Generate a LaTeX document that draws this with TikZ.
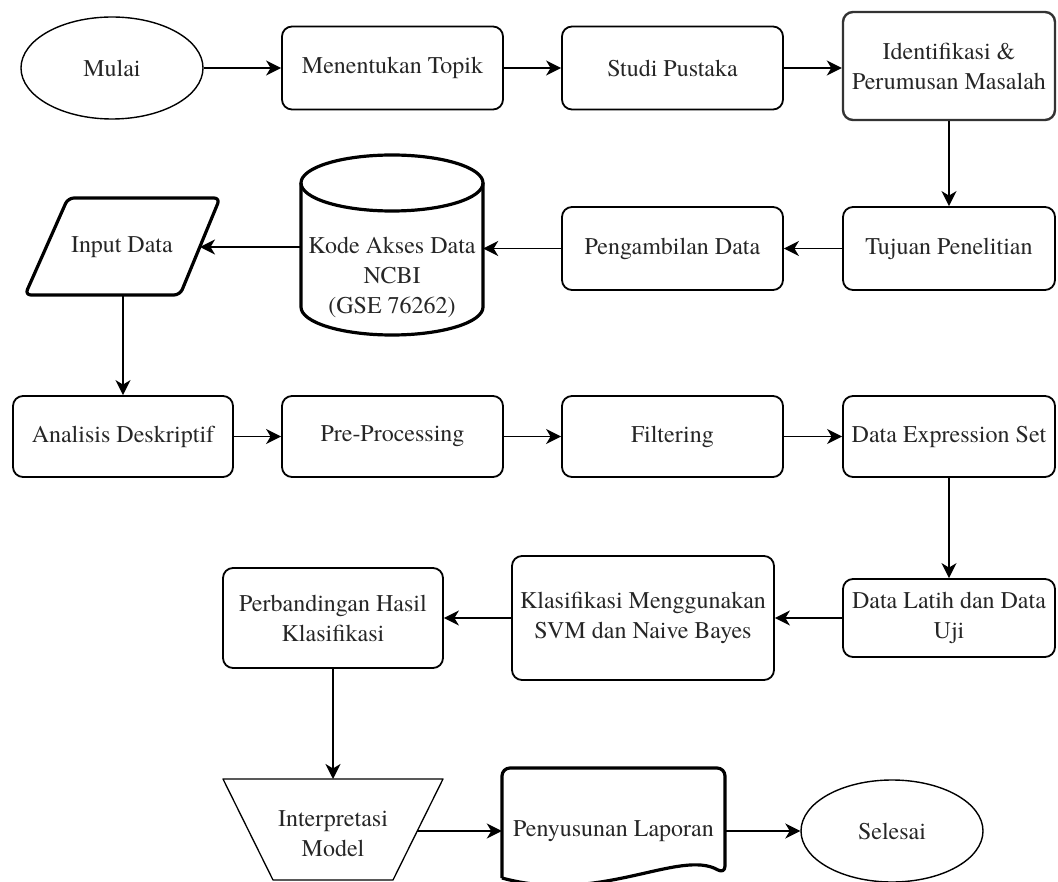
\documentclass[tikz,border=0pt]{standalone}
\usepackage{fontspec}
\setmainfont{texgyretermes}[Extension=.otf, UprightFont=*-regular, BoldFont=*-bold]
\usetikzlibrary{arrows.meta,shapes.geometric}
\begin{document}
\begin{tikzpicture}[x=1pt,y=-1pt,
  txt/.style={font=\rmfamily\fontsize{24}{30}\selectfont, text=black!85, align=center, inner sep=0pt},
  box/.style={txt, draw, line width=1.8pt, rounded corners=10pt},
  oval/.style={txt, draw, ellipse, line width=1.4pt, minimum width=182pt, minimum height=102pt},
  arr/.style={line width=1.8pt, -{Stealth[length=15pt,width=15pt,inset=4.5pt]}},
  heavy/.style={line width=3.2pt, line join=round}
]
\useasboundingbox (0,0) rectangle (1058,882);

% row 1
\node[oval] (mulai) at (112,68) {Mulai};
\node[box, minimum width=221pt, minimum height=83pt] (men) at (392.5,68) {Menentukan Topik};
\node[box, minimum width=221pt, minimum height=83pt] (studi) at (672.5,68) {Studi Pustaka};
\node[box, draw=black!80, line width=2.4pt, minimum width=212pt, minimum height=108pt] (iden) at (949,66) {Identifikasi \&\\Perumusan Masalah};

% row 2
\node[box, minimum width=212pt, minimum height=83pt] (tuj) at (949,248.5) {Tujuan Penelitian};
\node[box, minimum width=221pt, minimum height=83pt] (pg) at (672.5,248.5) {Pengambilan Data};
\node[txt, minimum width=182pt, minimum height=180pt] (cyl) at (392,245) {};
\draw[heavy] (301,183) -- (301,307) arc[start angle=180, end angle=360, x radius=91pt, y radius=28pt] -- (483,183);
\draw[heavy] (392,183) ellipse [x radius=91pt, y radius=28pt];
\node[txt] (cyltxt) at (392,277) {Kode Akses Data\\NCBI\\(GSE 76262)};
\node[txt] (inp) at (122,247) {Input Data};
\draw[heavy, rounded corners=6pt] (68,198) -- (220,198) -- (180,295) -- (25,295) -- cycle;
\coordinate (inpR) at (200,247);
\coordinate (inpB) at (123,295);

% row 3
\node[box, minimum width=220pt, minimum height=81pt] (ana) at (123,436.5) {Analisis Deskriptif};
\node[box, minimum width=221pt, minimum height=81pt] (pre) at (392.5,436.5) {Pre-Processing};
\node[box, minimum width=221pt, minimum height=81pt] (fil) at (672.5,436.5) {Filtering};
\node[box, minimum width=212pt, minimum height=81pt] (dex) at (949,436.5) {Data Expression Set};

% row 4
\node[box, minimum width=212pt, minimum height=78pt] (dl) at (949,618) {Data Latih dan Data\\Uji};
\node[box, minimum width=262pt, minimum height=124pt] (kl) at (643,618) {Klasifikasi Menggunakan\\SVM dan Naive Bayes};
\node[box, minimum width=220pt, minimum height=100pt] (pb) at (333,618) {Perbandingan Hasil\\Klasifikasi};

% row 5
\node[txt] (interp) at (333,834) {Interpretasi\\Model};
\draw[line width=1.3pt, line join=round] (223,779) -- (443,779) -- (393,880) -- (273,880) -- cycle;
\coordinate (interpT) at (333,779);
\coordinate (interpR) at (417,831);
\node[txt, minimum width=223pt] (doc) at (613.5,831) {Penyusunan Laporan};
\draw[heavy, rounded corners=8pt] (502,878) -- (502,768) -- (725,768) -- (725,874) [sharp corners] .. controls (680,848) and (600,905) .. (502,878);
\node[oval] (sel) at (892,831) {Selesai};

% connectors
\draw[arr] (mulai.east) -- (men.west);
\draw[arr] (men.east) -- (studi.west);
\draw[arr] (studi.east) -- (studi.east -| iden.west);
\draw[arr] (iden.south) -- (tuj.north);
\draw[arr] (tuj.west) -- (pg.east);
\draw[arr] (pg.west) -- (pg.west -| cyl.east);
\draw[arr] (inpR -| cyl.west) -- (inpR);
\draw[arr] (inpB) -- (ana.north);
\draw[arr] (ana.east) -- (pre.west);
\draw[arr] (pre.east) -- (fil.west);
\draw[arr] (fil.east) -- (dex.west);
\draw[arr] (dex.south) -- (dl.north);
\draw[arr] (dl.west) -- (kl.east);
\draw[arr] (kl.west) -- (pb.east);
\draw[arr] (pb.south) -- (interpT);
\draw[arr] (interpR) -- (doc.west);
\draw[arr] (doc.east) -- (sel.west);
\end{tikzpicture}
\end{document}
